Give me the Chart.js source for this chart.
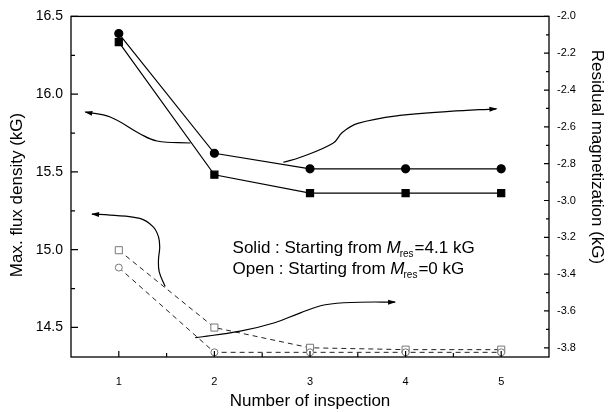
<!DOCTYPE html>
<html>
<head>
<meta charset="utf-8">
<script src="https://cdn.jsdelivr.net/npm/chart.js@4.4.0/dist/chart.umd.min.js"></script>
<style>
  html, body { margin: 0; padding: 0; background: #fff; }
</style>
</head>
<body>
<canvas id="graf" width="610" height="412"></canvas>
<script>
// x: number of inspection
var inspections = [1, 2, 3, 4, 5];
var inspectionMinor = [1.5, 2.5, 3.5, 4.5];

// Solid : starting from Mres = 4.1 kG
var solidFlux = [16.39, 15.62, 15.52, 15.52, 15.52];        // circles, left axis
var solidResidual = [-2.14, -2.86, -2.96, -2.96, -2.96];    // squares, right axis

// Open : starting from Mres = 0 kG
var openFlux = [14.885, 14.34, 14.34, 14.34, 14.34];        // circles, left axis
var openResidual = [-3.27, -3.69, -3.80, -3.81, -3.81];     // squares, right axis

// axis ticks
var fluxTicks = [14.5, 15.0, 15.5, 16.0, 16.5];
var fluxMinor = [14.75, 15.25, 15.75, 16.25];
var residualTicks = [-2.0, -2.2, -2.4, -2.6, -2.8, -3.0, -3.2, -3.4, -3.6, -3.8];
var residualMinor = [-2.1, -2.3, -2.5, -2.7, -2.9, -3.1, -3.3, -3.5, -3.7];

// hand drawn arrows (in inspection / flux units)
var arrowAx = [0.65, 0.91, 1.22, 1.40, 1.75];
var arrowAy = [15.885, 15.853, 15.746, 15.699, 15.686];
var arrowBx = [2.72, 2.90, 3.24, 3.34, 3.50, 3.94, 4.46, 4.95];
var arrowBy = [15.562, 15.594, 15.684, 15.755, 15.812, 15.863, 15.889, 15.906];
var arrowCx = [0.72, 0.91, 1.22, 1.36, 1.415, 1.428, 1.415, 1.423, 1.485];
var arrowCy = [15.229, 15.222, 15.201, 15.147, 15.083, 15.017, 14.934, 14.857, 14.763];
var arrowDx = [1.80, 2.27, 2.63, 2.90, 3.16, 3.52, 3.89];
var arrowDy = [14.434, 14.476, 14.530, 14.594, 14.646, 14.662, 14.663];

var textX = 2.19;
var textY = [14.977, 14.841];

var font = '"Liberation Sans", Arial, sans-serif';

function pts(xs, ys) {
    return xs.map(function (x, i) { return { x: x, y: ys[i] }; });
}

function curve(xs, ys, arrow) {
    return {
        data: pts(xs, ys),
        yAxisID: 'y',
        borderColor: '#000',
        borderWidth: 1.2,
        pointRadius: 0,
        tension: 0.4,
        fill: false,
        arrow: arrow
    };
}

var boxAndTicks = {
    id: 'boxAndTicks',
    afterDatasetsDraw: function (chart) {
        var ctx = chart.ctx, a = chart.chartArea;
        var sx = chart.scales.x, sy = chart.scales.y, sy1 = chart.scales.y1;
        ctx.save();
        ctx.strokeStyle = '#000';
        ctx.lineWidth = 1.3;
        ctx.strokeRect(a.left, a.top, a.right - a.left, a.bottom - a.top);
        ctx.lineWidth = 1.2;
        ctx.beginPath();
        function left(vals, len) {
            vals.forEach(function (v) { var y = sy.getPixelForValue(v); ctx.moveTo(a.left, y); ctx.lineTo(a.left + len, y); });
        }
        function right(vals, len) {
            vals.forEach(function (v) { var y = sy1.getPixelForValue(v); ctx.moveTo(a.right, y); ctx.lineTo(a.right - len, y); });
        }
        function bottom(vals, len) {
            vals.forEach(function (v) { var x = sx.getPixelForValue(v); ctx.moveTo(x, a.bottom); ctx.lineTo(x, a.bottom - len); });
        }
        left(fluxTicks, 7); left(fluxMinor, 4);
        right(residualTicks, 5); right(residualMinor, 3);
        bottom(inspections, 6); bottom(inspectionMinor, 4);
        ctx.stroke();

        // arrow heads
        chart.data.datasets.forEach(function (ds, i) {
            if (!ds.arrow) return;
            var p = chart.getDatasetMeta(i).data;
            var tip, fx, fy;
            if (ds.arrow === 'start') {
                tip = p[0];
                fx = tip.cp2x !== undefined ? tip.cp2x : p[1].x;
                fy = tip.cp2y !== undefined ? tip.cp2y : p[1].y;
            } else {
                tip = p[p.length - 1];
                fx = tip.cp1x !== undefined ? tip.cp1x : p[p.length - 2].x;
                fy = tip.cp1y !== undefined ? tip.cp1y : p[p.length - 2].y;
            }
            var ang = Math.atan2(tip.y - fy, tip.x - fx);
            ctx.save();
            ctx.translate(tip.x, tip.y);
            ctx.rotate(ang);
            ctx.fillStyle = '#000';
            ctx.beginPath();
            ctx.moveTo(1, 0);
            ctx.lineTo(-7, -2.5);
            ctx.lineTo(-7, 2.5);
            ctx.closePath();
            ctx.fill();
            ctx.restore();
        });

        // note text
        ctx.fillStyle = '#000';
        ctx.textBaseline = 'alphabetic';
        ctx.textAlign = 'left';
        var lines = [['Solid : Starting from ', '=4.1 kG'], ['Open : Starting from ', '=0 kG']];
        lines.forEach(function (l, i) {
            var x = sx.getPixelForValue(textX);
            var y = sy.getPixelForValue(textY[i]);
            ctx.font = '17px ' + font;
            ctx.fillText(l[0], x, y);
            x += ctx.measureText(l[0]).width;
            ctx.font = 'italic 17px ' + font;
            ctx.fillText('M', x, y);
            x += ctx.measureText('M').width - 1;
            ctx.font = '10px ' + font;
            ctx.fillText('res', x, y + 4);
            x += ctx.measureText('res').width + 1;
            ctx.font = '17px ' + font;
            ctx.fillText(l[1], x, y);
        });

        // axis titles
        ctx.font = '17px ' + font;
        ctx.textAlign = 'center';
        ctx.textBaseline = 'middle';
        ctx.fillText('Number of inspection', (a.left + a.right) / 2, 401);
        ctx.save();
        ctx.translate(17, 195);
        ctx.rotate(-Math.PI / 2);
        ctx.fillText('Max. flux density (kG)', 0, 0);
        ctx.restore();
        ctx.save();
        ctx.translate(597, 157);
        ctx.rotate(Math.PI / 2);
        ctx.fillText('Residual magnetization (kG)', 0, 0);
        ctx.restore();
        ctx.restore();
    }
};

var ctx = document.getElementById('graf').getContext('2d');
var chart = new Chart(ctx, {
    type: 'line',
    data: {
        datasets: [
            curve(arrowAx, arrowAy, 'start'),
            curve(arrowBx, arrowBy, 'end'),
            curve(arrowCx, arrowCy, 'start'),
            curve(arrowDx, arrowDy, 'end'),
            {
                label: 'Solid flux',
                data: pts(inspections, solidFlux),
                yAxisID: 'y',
                borderColor: '#000',
                borderWidth: 1.2,
                pointStyle: 'circle',
                pointRadius: 4,
                pointBackgroundColor: '#000',
                pointBorderColor: '#000',
                tension: 0
            },
            {
                label: 'Solid residual',
                data: pts(inspections, solidResidual),
                yAxisID: 'y1',
                borderColor: '#000',
                borderWidth: 1.2,
                pointStyle: 'rect',
                pointRadius: 5,
                pointBackgroundColor: '#000',
                pointBorderColor: '#000',
                tension: 0
            },
            {
                label: 'Open flux',
                data: pts(inspections, openFlux),
                yAxisID: 'y',
                borderColor: '#222',
                borderWidth: 1,
                borderDash: [5, 4],
                pointStyle: 'circle',
                pointRadius: 3.5,
                pointBorderWidth: 1,
                pointBackgroundColor: '#fff',
                pointBorderColor: '#777',
                tension: 0
            },
            {
                label: 'Open residual',
                data: pts(inspections, openResidual),
                yAxisID: 'y1',
                borderColor: '#222',
                borderWidth: 1,
                borderDash: [5, 4],
                pointStyle: 'rect',
                pointRadius: 5,
                pointBorderWidth: 1,
                pointBackgroundColor: '#fff',
                pointBorderColor: '#777',
                tension: 0
            }
        ]
    },
    options: {
        responsive: false,
        animation: false,
        devicePixelRatio: 1,
        layout: { padding: { top: 16, left: 0, right: 0, bottom: 0 } },
        plugins: { legend: { display: false }, tooltip: { enabled: false } },
        scales: {
            x: {
                type: 'linear',
                min: 0.5,
                max: 5.5,
                afterBuildTicks: function (s) { s.ticks = inspections.map(function (v) { return { value: v }; }); },
                afterFit: function (s) { s.height = 55; },
                grid: { display: false, drawTicks: false },
                border: { display: false },
                ticks: { color: '#000', font: { family: font, size: 11 }, padding: 18, maxRotation: 0 }
            },
            y: {
                position: 'left',
                min: 14.31,
                max: 16.5,
                afterBuildTicks: function (s) { s.ticks = fluxTicks.map(function (v) { return { value: v }; }); },
                afterFit: function (s) { s.width = 71; },
                grid: { display: false, drawTicks: false },
                border: { display: false },
                ticks: { color: '#000', font: { family: font, size: 14 }, padding: 8,
                    callback: function (v) { return v.toFixed(1); } }
            },
            y1: {
                position: 'right',
                min: -3.85,
                max: -2.0,
                afterBuildTicks: function (s) { s.ticks = residualTicks.map(function (v) { return { value: v }; }); },
                afterFit: function (s) { s.width = 61; },
                grid: { display: false, drawTicks: false },
                border: { display: false },
                ticks: { color: '#000', font: { family: font, size: 11 }, padding: 8,
                    callback: function (v) { return v.toFixed(1); } }
            }
        }
    },
    plugins: [boxAndTicks]
});
</script>
</body>
</html>
